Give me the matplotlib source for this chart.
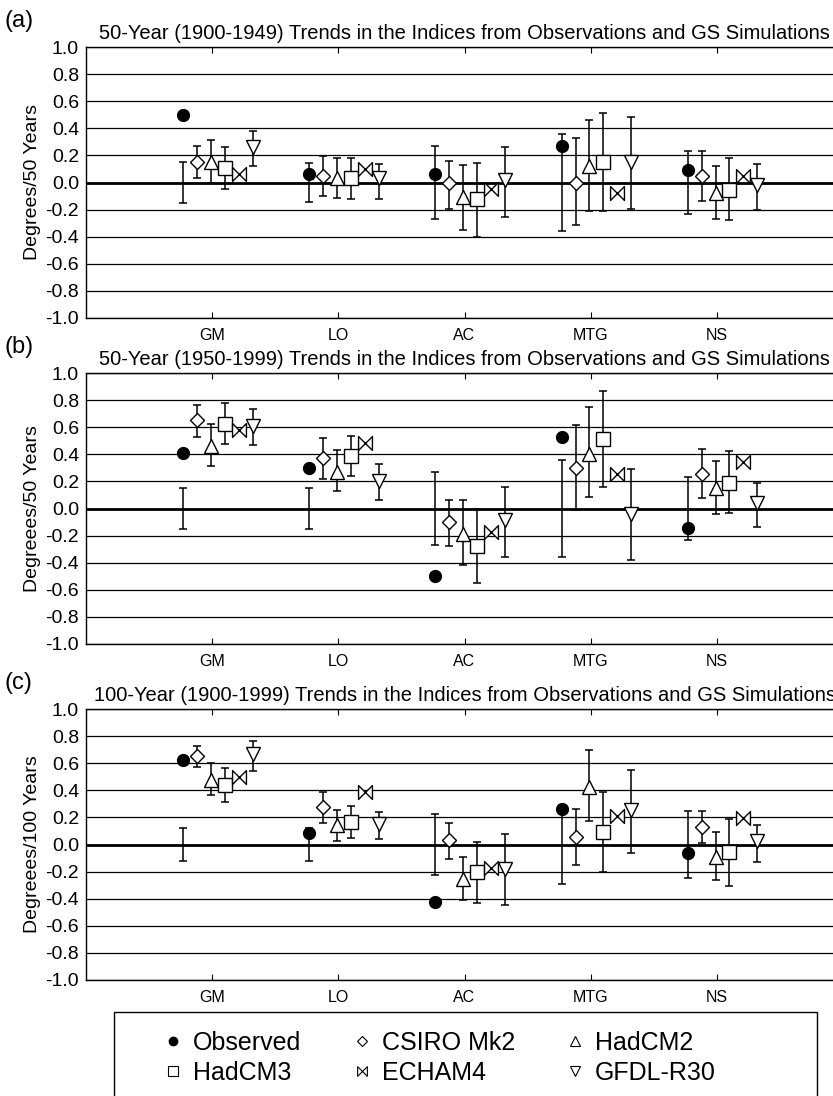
import numpy as np
import matplotlib
matplotlib.use('Agg')
import matplotlib.pyplot as plt
from matplotlib.path import Path
from matplotlib.lines import Line2D

plt.rcParams['font.family'] = ['Liberation Sans', 'DejaVu Sans']

categories = ['GM', 'LO', 'AC', 'MTG', 'NS']
models = ['CSIRO Mk2', 'HadCM2', 'HadCM3', 'ECHAM4', 'GFDL-R30']

# ---- (a) 1900-1949
obs_a = [0.50, 0.06, 0.06, 0.27, 0.09]
obs_err_a = [0.15, 0.145, 0.27, 0.355, 0.23]
csiro_a = [0.15, 0.05, -0.005, 0.0, 0.05]
csiro_lo_a = [0.03, -0.10, -0.195, -0.31, -0.135]
csiro_hi_a = [0.27, 0.195, 0.155, 0.33, 0.235]
hadcm2_a = [0.15, 0.03, -0.11, 0.125, -0.075]
hadcm2_lo_a = [0.0, -0.115, -0.35, -0.21, -0.27]
hadcm2_hi_a = [0.31, 0.18, 0.13, 0.46, 0.125]
hadcm3_a = [0.105, 0.03, -0.125, 0.15, -0.055]
hadcm3_lo_a = [-0.05, -0.12, -0.40, -0.21, -0.28]
hadcm3_hi_a = [0.26, 0.18, 0.145, 0.51, 0.18]
echam4_a = [0.065, 0.10, -0.05, -0.075, 0.05]
gfdl_a = [0.26, 0.03, 0.015, 0.15, -0.02]
gfdl_lo_a = [0.12, -0.125, -0.255, -0.195, -0.20]
gfdl_hi_a = [0.38, 0.14, 0.265, 0.48, 0.14]

# ---- (b) 1950-1999
obs_b = [0.41, 0.30, -0.50, 0.525, -0.147]
obs_err_b = [0.152, 0.148, 0.272, 0.356, 0.23]
csiro_b = [0.65, 0.37, -0.103, 0.30, 0.257]
csiro_lo_b = [0.53, 0.22, -0.28, -0.012, 0.076]
csiro_hi_b = [0.767, 0.52, 0.066, 0.617, 0.44]
hadcm2_b = [0.46, 0.27, -0.19, 0.40, 0.154]
hadcm2_lo_b = [0.314, 0.13, -0.42, 0.086, -0.037]
hadcm2_hi_b = [0.62, 0.43, 0.06, 0.747, 0.35]
hadcm3_b = [0.625, 0.387, -0.275, 0.51, 0.19]
hadcm3_lo_b = [0.473, 0.24, -0.55, 0.157, -0.032]
hadcm3_hi_b = [0.78, 0.534, -0.005, 0.865, 0.424]
echam4_b = [0.576, 0.485, -0.176, 0.257, 0.343]
gfdl_b = [0.608, 0.203, -0.088, -0.037, 0.044]
gfdl_lo_b = [0.47, 0.064, -0.36, -0.377, -0.14]
gfdl_hi_b = [0.738, 0.33, 0.16, 0.294, 0.19]

# ---- (c) 1900-1999
obs_c = [0.627, 0.084, -0.425, 0.265, -0.064]
obs_err_c = [0.123, 0.12, 0.227, 0.295, 0.245]
csiro_c = [0.651, 0.275, 0.03, 0.057, 0.13]
csiro_lo_c = [0.572, 0.162, -0.106, -0.152, 0.012]
csiro_hi_c = [0.725, 0.386, 0.16, 0.265, 0.25]
hadcm2_c = [0.474, 0.143, -0.258, 0.425, -0.09]
hadcm2_lo_c = [0.364, 0.025, -0.41, 0.177, -0.265]
hadcm2_hi_c = [0.60, 0.258, -0.09, 0.70, 0.09]
hadcm3_c = [0.437, 0.165, -0.204, 0.091, -0.057]
hadcm3_lo_c = [0.315, 0.047, -0.432, -0.201, -0.307]
hadcm3_hi_c = [0.563, 0.283, 0.02, 0.386, 0.19]
echam4_c = [0.50, 0.388, -0.17, 0.209, 0.199]
gfdl_c = [0.668, 0.15, -0.18, 0.258, 0.025]
gfdl_lo_c = [0.545, 0.044, -0.447, -0.061, -0.128]
gfdl_hi_c = [0.762, 0.238, 0.074, 0.553, 0.147]

panels = [
    ('(a)', '50-Year (1900-1949) Trends in the Indices from Observations and GS Simulations',
     'Degrees/50 Years', obs_a, obs_err_a,
     [(csiro_a, csiro_lo_a, csiro_hi_a), (hadcm2_a, hadcm2_lo_a, hadcm2_hi_a),
      (hadcm3_a, hadcm3_lo_a, hadcm3_hi_a), (echam4_a, None, None),
      (gfdl_a, gfdl_lo_a, gfdl_hi_a)]),
    ('(b)', '50-Year (1950-1999) Trends in the Indices from Observations and GS Simulations',
     'Degreees/50 Years', obs_b, obs_err_b,
     [(csiro_b, csiro_lo_b, csiro_hi_b), (hadcm2_b, hadcm2_lo_b, hadcm2_hi_b),
      (hadcm3_b, hadcm3_lo_b, hadcm3_hi_b), (echam4_b, None, None),
      (gfdl_b, gfdl_lo_b, gfdl_hi_b)]),
    ('(c)', '100-Year (1900-1999) Trends in the Indices from Observations and GS Simulations',
     'Degreees/100 Years', obs_c, obs_err_c,
     [(csiro_c, csiro_lo_c, csiro_hi_c), (hadcm2_c, hadcm2_lo_c, hadcm2_hi_c),
      (hadcm3_c, hadcm3_lo_c, hadcm3_hi_c), (echam4_c, None, None),
      (gfdl_c, gfdl_lo_c, gfdl_hi_c)]),
]

bowtie = Path([(-1, -1), (1, 1), (1, -1), (-1, 1), (-1, -1)],
              [Path.MOVETO, Path.LINETO, Path.LINETO, Path.LINETO, Path.CLOSEPOLY])
markers = ['D', '^', 's', bowtie, 'v']
msizes = [7.2, 10.2, 10, 10, 10]
offsets = [-0.12, -0.01, 0.10, 0.21, 0.32]
obs_offset = -0.23

fig = plt.figure(figsize=(8.33, 10.96), dpi=100)
W, H = 833.0, 1096.0
tops = [47, 373, 709]
ax_h = 271
x = np.arange(1, len(categories) + 1)
yt = np.round(np.arange(-1, 1.01, 0.2), 1)
ytl = ['%.1f' % abs(v) if abs(v) < 1e-9 else '%.1f' % v for v in yt]

for (lab, title, ylab, obs, obs_err, mods), top in zip(panels, tops):
    ax = fig.add_axes([86 / W, 1 - (top + ax_h) / H, 757 / W, ax_h / H])
    ax.set_xlim(0, 6)
    ax.set_ylim(-1, 1)
    ax.set_yticks(yt)
    ax.set_yticklabels(ytl)
    ax.yaxis.grid(True, color='black', lw=0.9)
    ax.set_axisbelow(True)
    ax.axhline(0, color='black', lw=2.0, zorder=1)
    ax.set_xticks(x)
    ax.set_xticklabels(categories, fontsize=11.5)
    ax.tick_params(axis='x', direction='in', length=4, width=0.8, top=True, pad=7)
    ax.tick_params(axis='y', length=0, labelsize=14, pad=5)
    ax.spines['right'].set_visible(False)
    for s in ['left', 'top', 'bottom']:
        ax.spines[s].set_linewidth(1.0)
    ax.set_title(title, fontsize=14.5, pad=6)
    ax.set_ylabel(ylab, fontsize=14, labelpad=3)
    fig.text(4 / W, 1 - (top - 26) / H, lab, fontsize=17, va='center', ha='left')

    # observed: variability bar around zero plus filled dot
    ax.errorbar(x + obs_offset, np.zeros(len(x)), yerr=obs_err, fmt='none',
                ecolor='black', elinewidth=1.1, capsize=3.2, capthick=1.1, zorder=2)
    ax.plot(x + obs_offset, obs, 'o', color='black', ms=8.5, zorder=4)

    for (vals, lo, hi), mk, ms, off in zip(mods, markers, msizes, offsets):
        if lo is not None:
            vals_arr = np.array(vals)
            yerr = [vals_arr - np.array(lo), np.array(hi) - vals_arr]
            ax.errorbar(x + off, vals, yerr=yerr, fmt='none', ecolor='black',
                        elinewidth=1.1, capsize=3.2, capthick=1.1, zorder=2)
        ax.plot(x + off, vals, linestyle='none', marker=mk, ms=ms,
                mfc='white', mec='black', mew=1.0, zorder=3)

# legend box
frame = plt.Rectangle((114 / W, 1 - 1120 / H), (817 - 114) / W, (1120 - 1012) / H,
                      transform=fig.transFigure, fill=False, lw=1.0, ec='black')
fig.patches.append(frame)

h_obs = Line2D([], [], ls='none', marker='o', color='black', ms=6)
h_list = [h_obs]
for mk, m in zip(markers, models):
    h_list.append(Line2D([], [], ls='none', marker=mk, mfc='white', mec='black',
                         mew=0.8, ms=7 if mk != 'D' else 5.5))
labels_all = ['Observed'] + models
order = [0, 3, 1, 4, 2, 5]
fig.legend([h_list[i] for i in order], [labels_all[i] for i in order],
           ncol=3, loc='upper left', bbox_to_anchor=(147 / W, 1 - 1013 / H),
           frameon=False, fontsize=18, handlelength=0.7, handletextpad=0.45,
           columnspacing=2.05, labelspacing=0.25, borderpad=0.2)

fig.savefig('out.png', dpi=100)
